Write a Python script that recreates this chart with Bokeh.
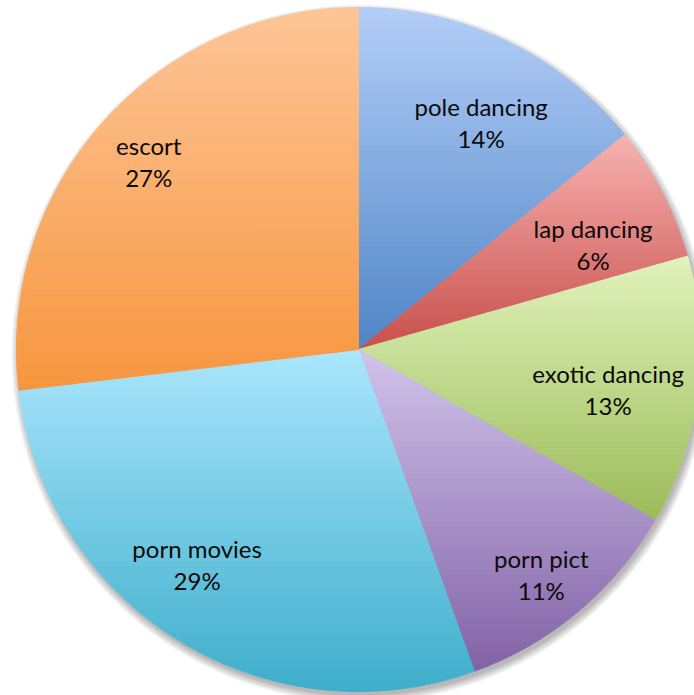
import numpy as np
from bokeh.plotting import figure
from bokeh.models import Range1d, ColumnDataSource
from bokeh.core.properties import value
from bokeh.embed import file_html
from bokeh.resources import INLINE

# ---- data ----
categories = ["pole dancing", "lap dancing", "exotic dancing", "porn pict", "porn movies", "escort"]
shares = [14.2, 6.4, 12.7, 11.2, 28.6, 26.9]
pct_labels = ["14%", "6%", "13%", "11%", "29%", "27%"]

# ---- style ----
top_colors = ["#b3cef7", "#f7b2b0", "#e0f3bb", "#d0c3ea", "#aae6fd", "#fdc597"]
bot_colors = ["#4f85c6", "#c84f4b", "#9bbb58", "#8262a6", "#3eaecb", "#f7963f"]
label_rfrac = [0.75, 0.75, 0.74, 0.85, 0.79, 0.82]
label_shift = [3.0, 3.5, 2.5, 1.0, 5.0, 0.0]  # degrees, clockwise

W, H = 694, 695
CX, CY, R = 358, 349, 342

def hex2rgb(h):
    h = h.lstrip("#")
    return np.array([int(h[i:i + 2], 16) for i in (0, 2, 4)], dtype=float)

def rgb2hex(c):
    return "#%02x%02x%02x" % tuple(int(round(v)) for v in c)

def clip(poly, y0, keep_above):
    out = []
    n = len(poly)
    for i in range(n):
        a = poly[i]
        b = poly[(i + 1) % n]
        ina = a[1] >= y0 if keep_above else a[1] <= y0
        inb = b[1] >= y0 if keep_above else b[1] <= y0
        if ina:
            out.append(a)
        if ina != inb:
            t = (y0 - a[1]) / (b[1] - a[1])
            out.append((a[0] + t * (b[0] - a[0]), y0))
    return out

p = figure(width=W, height=H, output_backend="svg", toolbar_location=None,
           x_range=Range1d(-CX / R, (W - CX) / R),
           y_range=Range1d((CY - H) / R, CY / R),
           min_border=0)
p.axis.visible = False
p.grid.visible = False
p.outline_line_color = None
p.background_fill_color = "white"

# shadow
for k in range(6):
    p.circle(x=0.006, y=-0.012, radius=1.0 + 0.004 * k, fill_color="#000000",
             fill_alpha=0.05, line_color=None)
p.circle(x=0, y=0, radius=1.0, fill_color="white", line_color=None)

total = sum(shares)
cum = np.cumsum([0] + shares) / total
xs_all, ys_all, cols = [], [], []
lx, ly = [], []
nb = 60
for i, s in enumerate(shares):
    a0 = np.pi / 2 - 2 * np.pi * cum[i]
    a1 = np.pi / 2 - 2 * np.pi * cum[i + 1]
    th = np.linspace(a0, a1, 200)
    poly = [(0.0, 0.0)] + [(np.cos(t), np.sin(t)) for t in th]
    ymin = min(q[1] for q in poly)
    ymax = max(q[1] for q in poly)
    ct, cb = hex2rgb(top_colors[i]), hex2rgb(bot_colors[i])
    edges = np.linspace(ymin, ymax, nb + 1)
    for j in range(nb):
        lo, hi = edges[j], edges[j + 1]
        pc = clip(clip(poly, lo, True), hi, False)
        if len(pc) < 3:
            continue
        f = (0.5 * (lo + hi) - ymin) / (ymax - ymin)
        c = cb + (ct - cb) * f
        xs_all.append([q[0] for q in pc])
        ys_all.append([q[1] for q in pc])
        cols.append(rgb2hex(c))
    am = 0.5 * (a0 + a1) - np.radians(label_shift[i])
    lx.append(label_rfrac[i] * np.cos(am))
    ly.append(label_rfrac[i] * np.sin(am))

p.patches(xs=xs_all, ys=ys_all, fill_color=cols, line_color=cols, line_width=1)

src = ColumnDataSource(dict(x=lx, y=ly, name=categories, pct=pct_labels))
p.text(x="x", y="y", text="name", source=src, text_align="center",
       text_baseline="bottom", text_font=value("Lato"), text_font_size="24px",
       text_color="#0a0a0a", y_offset=-3)
p.text(x="x", y="y", text="pct", source=src, text_align="center",
       text_baseline="top", text_font=value("Lato"), text_font_size="24px",
       text_color="#0a0a0a", y_offset=0)

open("out.html", "w").write(file_html(p, INLINE))
